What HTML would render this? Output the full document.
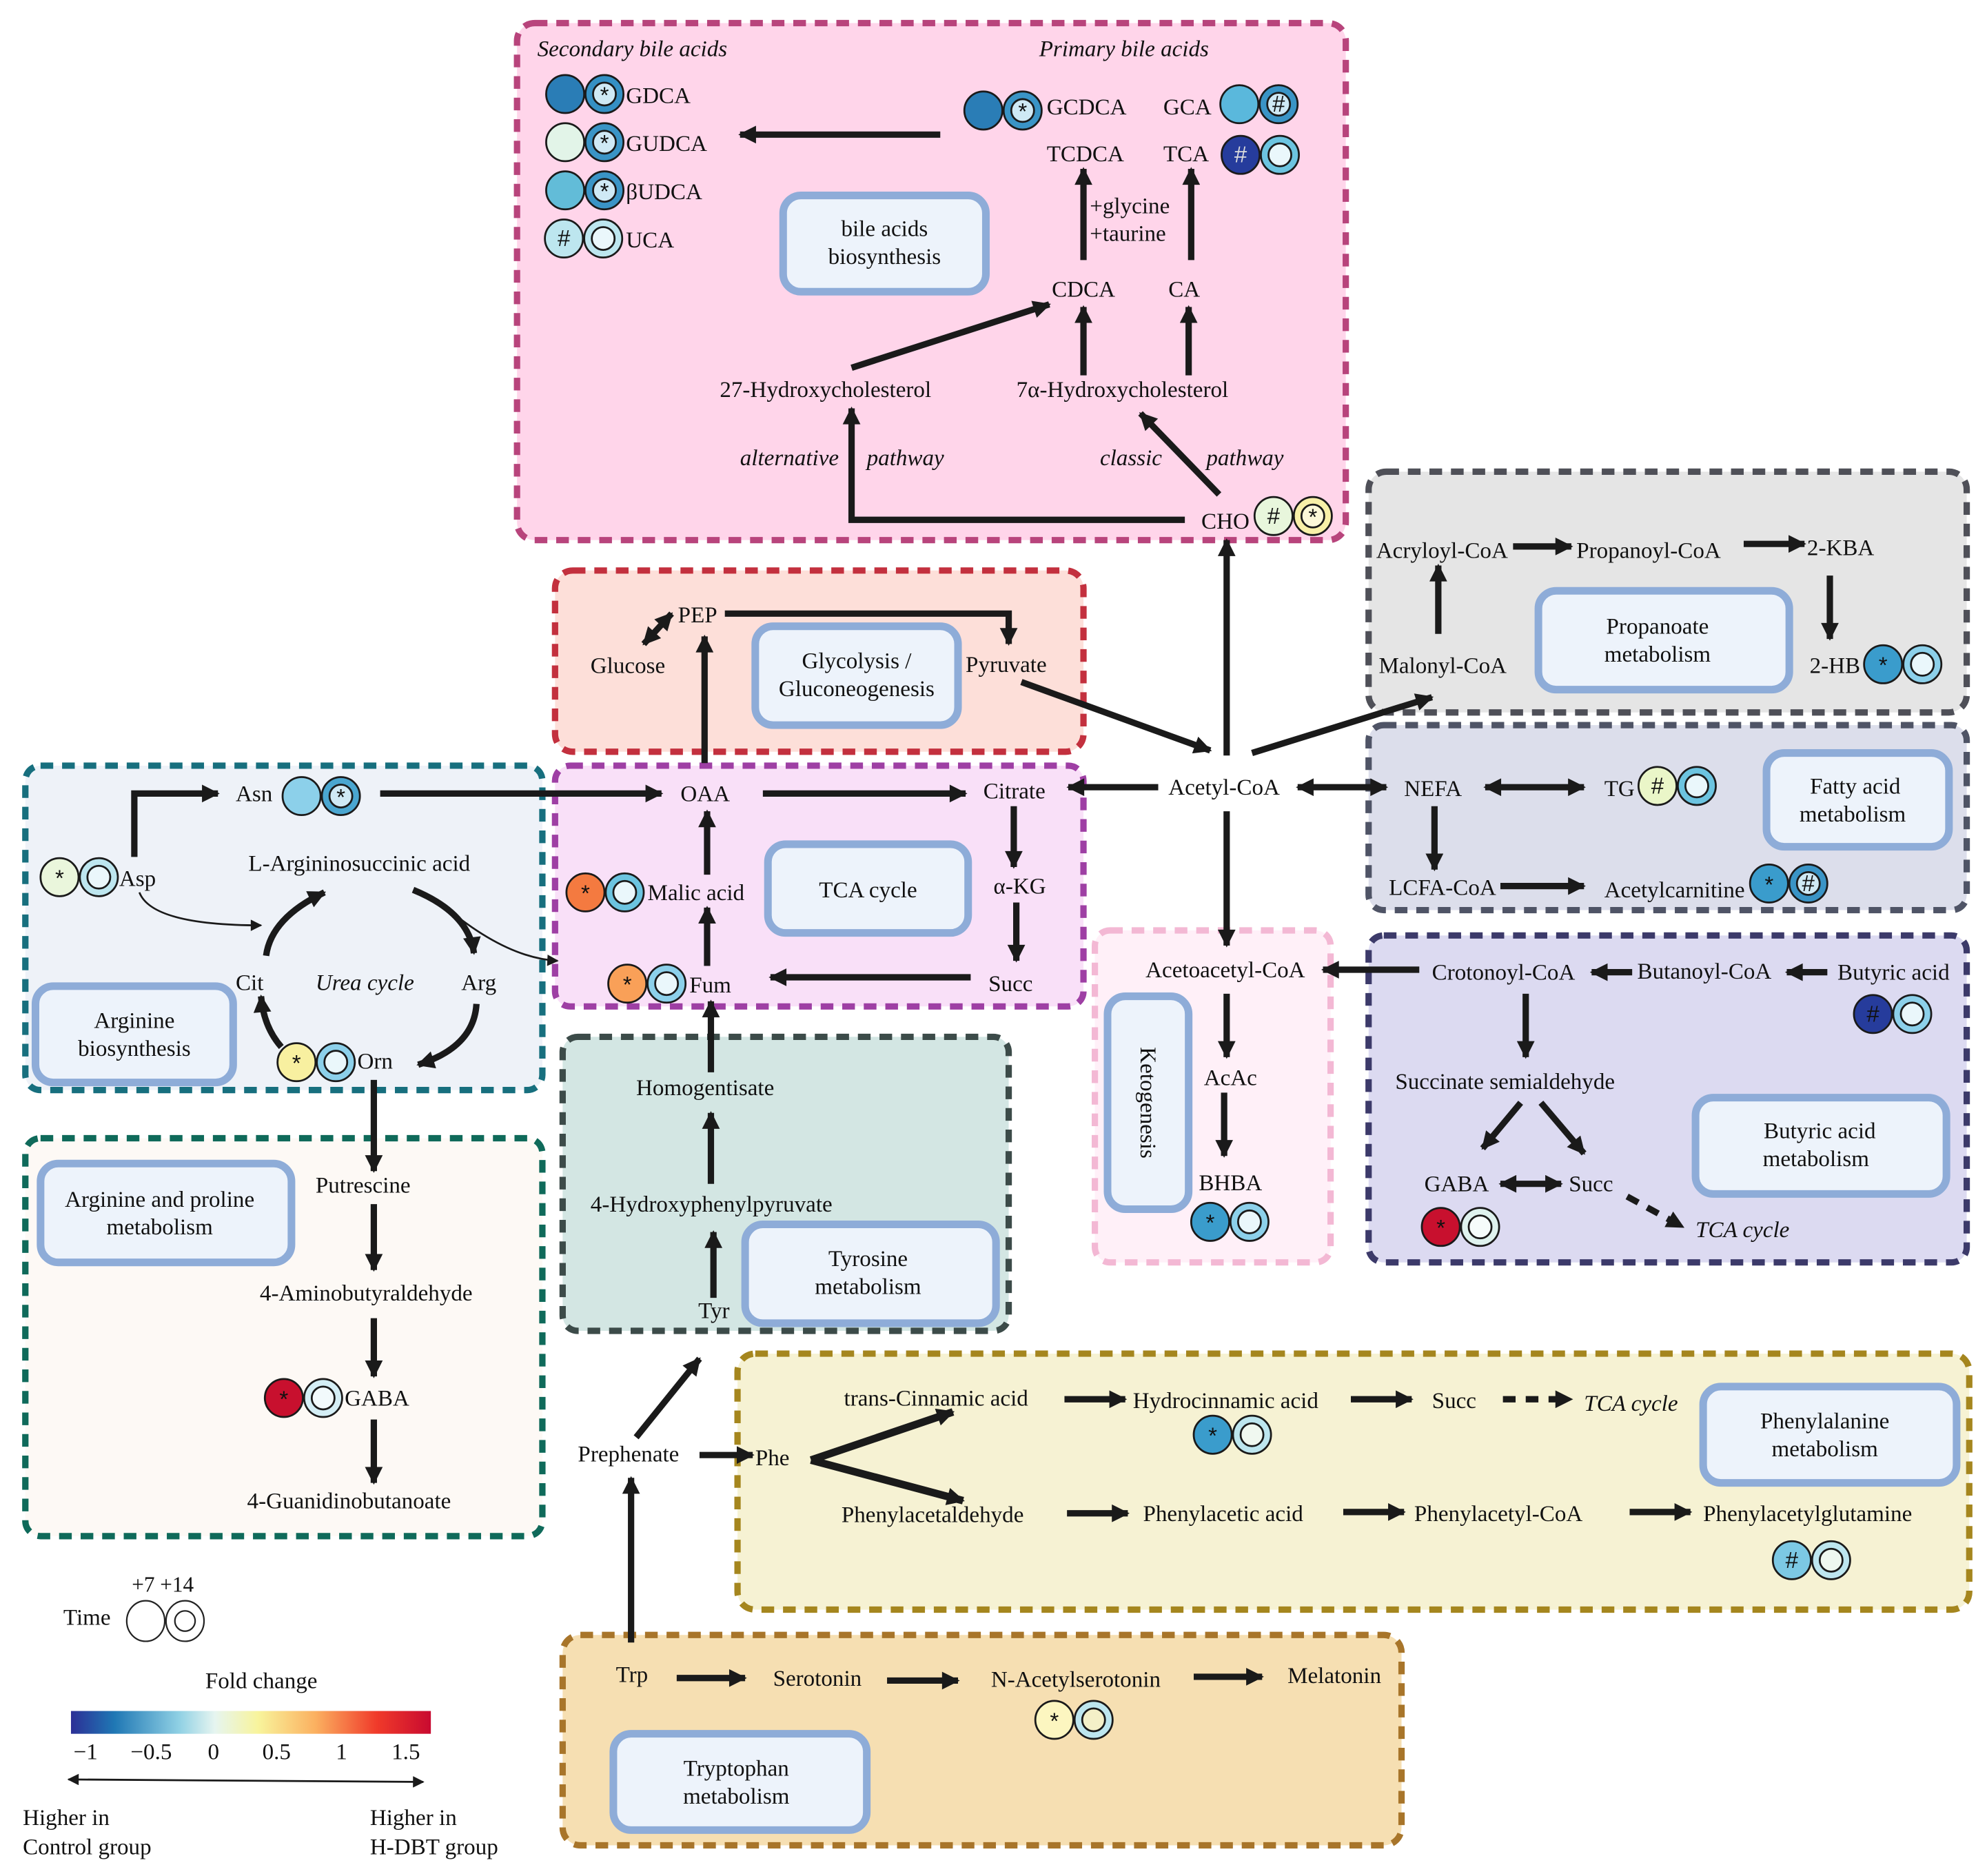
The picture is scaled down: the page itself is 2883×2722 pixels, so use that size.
<!DOCTYPE html>
<html><head><meta charset="utf-8"><style>
html,body{margin:0;padding:0;background:#fff}
svg{display:block}
text{font-family:"Liberation Serif",serif;font-size:18px;fill:#111}
.i{font-style:italic}
.s{font-size:15px}
.a{stroke:#1a1a1a;stroke-width:5;fill:none;marker-end:url(#ah)}
.d{stroke:#1a1a1a;stroke-width:5;fill:none;marker-end:url(#ah);marker-start:url(#ah)}
.t{stroke:#1a1a1a;stroke-width:1.5;fill:none;marker-end:url(#ahs)}
.lb{fill:#edf3fb;stroke:#8eacd8;stroke-width:6}
.bo{stroke-width:5;stroke-dasharray:10 7}
.c{stroke:#1a1a1a;stroke-width:1.5}
.sy{font-family:"Liberation Sans",sans-serif;font-size:18px;text-anchor:middle}
</style></head><body>
<svg width="2883" height="2722" viewBox="0 0 1568 1480" xmlns="http://www.w3.org/2000/svg">
<defs>
<marker id="ah" viewBox="0 0 10 10" refX="9" refY="5" markerWidth="16" markerHeight="14" markerUnits="userSpaceOnUse" orient="auto-start-reverse"><path d="M0,0 L10,5 L0,10 z" fill="#1a1a1a"/></marker>
<marker id="ahs" viewBox="0 0 10 10" refX="9" refY="5" markerWidth="10" markerHeight="9" markerUnits="userSpaceOnUse" orient="auto-start-reverse"><path d="M0,0 L10,5 L0,10 z" fill="#1a1a1a"/></marker>
<linearGradient id="fc" x1="0" x2="1" y1="0" y2="0">
<stop offset="0" stop-color="#2c2f96"/><stop offset="0.12" stop-color="#1f77b4"/><stop offset="0.3" stop-color="#8fd0e4"/><stop offset="0.4" stop-color="#e6f5f0"/><stop offset="0.52" stop-color="#f8f49c"/><stop offset="0.68" stop-color="#fbb060"/><stop offset="0.85" stop-color="#f03a2a"/><stop offset="1" stop-color="#c80a30"/>
</linearGradient>
</defs>

<rect class="bo" x="408" y="18" width="654" height="408" rx="14" fill="#ffd5ea" stroke="#b8447c"/>
<rect class="bo" x="438" y="450" width="417" height="143" rx="14" fill="#fddfd9" stroke="#c3303e"/>
<rect class="bo" x="438" y="604" width="417" height="190" rx="12" fill="#f9e0f8" stroke="#9e3fa4"/>
<rect class="bo" x="20" y="604" width="408" height="256" rx="12" fill="#eef2f8" stroke="#176f7e"/>
<rect class="bo" x="20" y="898" width="408" height="314" rx="12" fill="#fdf9f5" stroke="#0f6a5a"/>
<rect class="bo" x="444" y="818" width="352" height="232" rx="12" fill="#d3e6e3" stroke="#3c4b49"/>
<rect class="bo" x="864" y="734" width="186" height="262" rx="12" fill="#fff0f8" stroke="#f3b8d4"/>
<rect class="bo" x="1080" y="372" width="472" height="190" rx="14" fill="#e5e5e5" stroke="#4f5058"/>
<rect class="bo" x="1080" y="572" width="472" height="146" rx="12" fill="#dcdeeb" stroke="#4f5466"/>
<rect class="bo" x="1080" y="738" width="472" height="258" rx="12" fill="#dcdaf1" stroke="#3c3a6a"/>
<rect class="bo" x="582" y="1068" width="972" height="202" rx="14" fill="#f6f2d3" stroke="#a5861e"/>
<rect class="bo" x="444" y="1290" width="662" height="166" rx="14" fill="#f6dfb2" stroke="#a8752a"/>

<rect class="lb" x="618" y="154" width="160" height="76" rx="14"/>
<text x="698" y="186" text-anchor="middle">bile acids</text><text x="698" y="208" text-anchor="middle">biosynthesis</text>
<rect class="lb" x="596" y="494" width="160" height="78" rx="14"/>
<text x="676" y="527" text-anchor="middle">Glycolysis /</text><text x="676" y="549" text-anchor="middle">Gluconeogenesis</text>
<rect class="lb" x="606" y="666" width="158" height="70" rx="14"/>
<text x="685" y="708" text-anchor="middle">TCA cycle</text>
<rect class="lb" x="28" y="778" width="156" height="76" rx="14"/>
<text x="106" y="811" text-anchor="middle">Arginine</text><text x="106" y="833" text-anchor="middle">biosynthesis</text>
<rect class="lb" x="32" y="918" width="198" height="78" rx="14"/>
<text x="126" y="952" text-anchor="middle">Arginine and proline</text><text x="126" y="974" text-anchor="middle">metabolism</text>
<rect class="lb" x="588" y="966" width="198" height="78" rx="14"/>
<text x="685" y="999" text-anchor="middle">Tyrosine</text><text x="685" y="1021" text-anchor="middle">metabolism</text>
<rect class="lb" x="874" y="786" width="64" height="168" rx="14"/>
<text x="906" y="870" text-anchor="middle" transform="rotate(90 906 870)" dy="6">Ketogenesis</text>
<rect class="lb" x="1214" y="466" width="198" height="78" rx="14"/>
<text x="1308" y="500" text-anchor="middle">Propanoate</text><text x="1308" y="522" text-anchor="middle">metabolism</text>
<rect class="lb" x="1394" y="594" width="144" height="74" rx="14"/>
<text x="1464" y="626" text-anchor="middle">Fatty acid</text><text x="1462" y="648" text-anchor="middle">metabolism</text>
<rect class="lb" x="1338" y="866" width="198" height="76" rx="14"/>
<text x="1436" y="898" text-anchor="middle">Butyric acid</text><text x="1433" y="920" text-anchor="middle">metabolism</text>
<rect class="lb" x="1344" y="1094" width="200" height="76" rx="14"/>
<text x="1440" y="1127" text-anchor="middle">Phenylalanine</text><text x="1440" y="1149" text-anchor="middle">metabolism</text>
<rect class="lb" x="484" y="1368" width="200" height="76" rx="14"/>
<text x="581" y="1401" text-anchor="middle">Tryptophan</text><text x="581" y="1423" text-anchor="middle">metabolism</text>

<text x="424" y="44" class="i">Secondary bile acids</text>
<text x="820" y="44" class="i">Primary bile acids</text>
<text x="494" y="81">GDCA</text>
<text x="494" y="119">GUDCA</text>
<text x="494" y="157">βUDCA</text>
<text x="494" y="195">UCA</text>
<text x="826" y="90">GCDCA</text>
<text x="918" y="90">GCA</text>
<text x="826" y="127">TCDCA</text>
<text x="918" y="127">TCA</text>
<text x="860" y="168">+glycine</text>
<text x="860" y="190">+taurine</text>
<text x="830" y="234">CDCA</text>
<text x="922" y="234">CA</text>
<text x="568" y="313">27-Hydroxycholesterol</text>
<text x="802" y="313">7α-Hydroxycholesterol</text>
<text x="584" y="367" class="i">alternative</text>
<text x="684" y="367" class="i">pathway</text>
<text x="868" y="367" class="i">classic</text>
<text x="952" y="367" class="i">pathway</text>
<text x="948" y="417">CHO</text>

<path class="a" d="M742,106 H584"/>
<path class="a" d="M855,205 V133"/>
<path class="a" d="M940,205 V133"/>
<path class="a" d="M672,290 L828,240"/>
<path class="a" d="M855,296 V242"/>
<path class="a" d="M938,296 V242"/>
<path class="a" d="M935,410 H672 V322"/>
<path class="a" d="M962,390 L900,326"/>
<path class="a" d="M968,596 V426"/>

<text x="535" y="491">PEP</text>
<text x="466" y="531">Glucose</text>
<text x="762" y="530">Pyruvate</text>
<path class="d" d="M508,508 L530,484"/>
<path class="a" d="M572,484 H796 V508"/>
<path class="a" d="M556,602 V502"/>
<path class="a" d="M806,538 L955,592"/>
<path class="a" d="M988,594 L1130,550"/>

<text x="537" y="632">OAA</text>
<text x="776" y="630">Citrate</text>
<text x="784" y="705">α-KG</text>
<text x="780" y="782">Succ</text>
<text x="511" y="710">Malic acid</text>
<text x="544" y="783">Fum</text>
<path class="a" d="M300,626 H522"/>
<path class="a" d="M602,626 H762"/>
<path class="a" d="M800,636 V684"/>
<path class="a" d="M802,712 V758"/>
<path class="a" d="M766,771 H608"/>
<path class="a" d="M558,762 V716"/>
<path class="a" d="M558,690 V640"/>
<path class="a" d="M561,846 V790"/>

<text x="922" y="627">Acetyl-CoA</text>
<path class="a" d="M914,621 H843"/>
<path class="d" d="M1094,621 H1024"/>
<path class="a" d="M968,640 V746"/>

<text x="186" y="632">Asn</text>
<text x="94" y="699">Asp</text>
<text x="196" y="687">L-Argininosuccinic acid</text>
<text x="186" y="781">Cit</text>
<text x="249" y="781" class="i">Urea cycle</text>
<text x="364" y="781">Arg</text>
<text x="282" y="843">Orn</text>
<path class="a" d="M106,676 V626 H172"/>
<path class="t" d="M110,704 Q120,730 206,730"/>
<path class="t" d="M352,716 Q400,756 440,758"/>
<path class="a" d="M210,754 Q214,724 256,704"/>
<path class="a" d="M326,702 Q370,720 374,752"/>
<path class="a" d="M376,792 Q374,826 330,840"/>
<path class="a" d="M222,826 Q208,810 206,786"/>

<text x="249" y="941">Putrescine</text>
<text x="205" y="1026">4-Aminobutyraldehyde</text>
<text x="272" y="1109">GABA</text>
<text x="195" y="1190">4-Guanidinobutanoate</text>
<path class="a" d="M295,852 V924"/>
<path class="a" d="M295,950 V1002"/>
<path class="a" d="M295,1040 V1086"/>
<path class="a" d="M295,1120 V1170"/>

<text x="502" y="864">Homogentisate</text>
<text x="466" y="956">4-Hydroxyphenylpyruvate</text>
<text x="551" y="1040">Tyr</text>
<path class="a" d="M563,1024 V972"/>
<path class="a" d="M561,934 V878"/>
<text x="456" y="1153">Prephenate</text>
<path class="a" d="M502,1134 L552,1072"/>
<path class="a" d="M498,1296 V1166"/>
<path class="a" d="M552,1148 H594"/>

<text x="904" y="771">Acetoacetyl-CoA</text>
<text x="950" y="856">AcAc</text>
<text x="946" y="939">BHBA</text>
<path class="a" d="M968,784 V834"/>
<path class="a" d="M966,862 V912"/>

<text x="1086" y="440">Acryloyl-CoA</text>
<text x="1244" y="440">Propanoyl-CoA</text>
<text x="1426" y="438">2-KBA</text>
<text x="1088" y="531">Malonyl-CoA</text>
<text x="1428" y="531">2-HB</text>
<path class="a" d="M1135,500 V446"/>
<path class="a" d="M1194,431 H1240"/>
<path class="a" d="M1376,429 H1424"/>
<path class="a" d="M1444,454 V504"/>

<text x="1108" y="628">NEFA</text>
<text x="1266" y="628">TG</text>
<text x="1096" y="706">LCFA-CoA</text>
<text x="1266" y="708">Acetylcarnitine</text>
<path class="d" d="M1172,621 H1250"/>
<path class="a" d="M1132,636 V686"/>
<path class="a" d="M1184,699 H1250"/>

<text x="1130" y="773">Crotonoyl-CoA</text>
<text x="1292" y="772">Butanoyl-CoA</text>
<text x="1450" y="773">Butyric acid</text>
<text x="1101" y="859">Succinate semialdehyde</text>
<text x="1124" y="940">GABA</text>
<text x="1238" y="940">Succ</text>
<text x="1338" y="976" class="i">TCA cycle</text>
<path class="a" d="M1442,767 H1410"/>
<path class="a" d="M1288,767 H1256"/>
<path class="a" d="M1120,765 H1044"/>
<path class="a" d="M1204,784 V834"/>
<path class="a" d="M1200,870 L1170,906"/>
<path class="a" d="M1216,870 L1250,910"/>
<path class="d" d="M1184,934 H1232"/>
<path class="a" d="M1284,944 L1328,968" stroke-dasharray="10 8"/>

<text x="596" y="1156">Phe</text>
<text x="666" y="1109">trans-Cinnamic acid</text>
<text x="894" y="1111">Hydrocinnamic acid</text>
<text x="1130" y="1111">Succ</text>
<text x="1250" y="1113" class="i">TCA cycle</text>
<text x="664" y="1201">Phenylacetaldehyde</text>
<text x="902" y="1200">Phenylacetic acid</text>
<text x="1116" y="1200">Phenylacetyl-CoA</text>
<text x="1344" y="1200">Phenylacetylglutamine</text>
<path d="M640,1152 L760,1184" stroke="#1a1a1a" stroke-width="6" fill="none" marker-end="url(#ah)"/>
<path d="M640,1152 L752,1114" stroke="#1a1a1a" stroke-width="6" fill="none" marker-end="url(#ah)"/>
<path class="a" d="M840,1104 H888"/>
<path class="a" d="M1066,1104 H1114"/>
<path class="a" d="M1186,1104 H1240" stroke-dasharray="10 8"/>
<path class="a" d="M842,1194 H890"/>
<path class="a" d="M1060,1193 H1108"/>
<path class="a" d="M1286,1193 H1334"/>

<text x="486" y="1327">Trp</text>
<text x="610" y="1330">Serotonin</text>
<text x="782" y="1331">N-Acetylserotonin</text>
<text x="1016" y="1328">Melatonin</text>
<path class="a" d="M534,1324 H588"/>
<path class="a" d="M700,1326 H756"/>
<path class="a" d="M942,1323 H996"/>

<g>
<circle class="c" cx="446" cy="74" r="15" fill="#2a7db6"/><circle class="c" cx="477" cy="74" r="15" fill="#3590c4"/><circle class="c" cx="477" cy="74" r="9" fill="#cfe9f5"/><text class="sy" x="477" y="81">*</text>
<circle class="c" cx="446" cy="112" r="15" fill="#e2f4e8"/><circle class="c" cx="477" cy="112" r="15" fill="#3a94c6"/><circle class="c" cx="477" cy="112" r="9" fill="#cfe9f5"/><text class="sy" x="477" y="119">*</text>
<circle class="c" cx="446" cy="150" r="15" fill="#62bcd8"/><circle class="c" cx="477" cy="150" r="15" fill="#3a94c6"/><circle class="c" cx="477" cy="150" r="9" fill="#cfe9f5"/><text class="sy" x="477" y="157">*</text>
<circle class="c" cx="445" cy="188" r="15" fill="#bde6ef"/><text class="sy" x="445" y="194">#</text><circle class="c" cx="476" cy="188" r="15" fill="#bde6ef"/><circle class="c" cx="476" cy="188" r="9" fill="#eaf7fb"/>
<circle class="c" cx="776" cy="87" r="15" fill="#2a7db6"/><circle class="c" cx="807" cy="87" r="15" fill="#3a94c6"/><circle class="c" cx="807" cy="87" r="9" fill="#cfe9f5"/><text class="sy" x="807" y="94">*</text>
<circle class="c" cx="978" cy="82" r="15" fill="#5ab8dc"/><circle class="c" cx="1009" cy="82" r="15" fill="#3a94c6"/><circle class="c" cx="1009" cy="82" r="9" fill="#cfe9f5"/><text class="sy" x="1009" y="88">#</text>
<circle class="c" cx="979" cy="122" r="15" fill="#263c9c"/><text class="sy" x="979" y="128" style="fill:#ddd">#</text><circle class="c" cx="1010" cy="122" r="15" fill="#6cc4e0"/><circle class="c" cx="1010" cy="122" r="9" fill="#eaf7fb"/>
<circle class="c" cx="1005" cy="407" r="15" fill="#e8f6dc"/><text class="sy" x="1005" y="413">#</text><circle class="c" cx="1036" cy="407" r="15" fill="#f8f0a8"/><circle class="c" cx="1036" cy="407" r="9" fill="#fcf8d8"/><text class="sy" x="1036" y="414">*</text>
<circle class="c" cx="238" cy="628" r="15" fill="#8cd0ea"/><circle class="c" cx="269" cy="628" r="15" fill="#4aa6d0"/><circle class="c" cx="269" cy="628" r="9" fill="#cfe9f5"/><text class="sy" x="269" y="635">*</text>
<circle class="c" cx="47" cy="692" r="15" fill="#eaf6dc"/><text class="sy" x="47" y="699">*</text><circle class="c" cx="78" cy="692" r="15" fill="#bde6ef"/><circle class="c" cx="78" cy="692" r="9" fill="#eaf7fb"/>
<circle class="c" cx="462" cy="704" r="15" fill="#f47a40"/><text class="sy" x="462" y="711">*</text><circle class="c" cx="493" cy="704" r="15" fill="#6cc4e0"/><circle class="c" cx="493" cy="704" r="9" fill="#eaf7fb"/>
<circle class="c" cx="495" cy="776" r="15" fill="#f9a058"/><text class="sy" x="495" y="783">*</text><circle class="c" cx="526" cy="776" r="15" fill="#8cd0ea"/><circle class="c" cx="526" cy="776" r="9" fill="#eaf7fb"/>
<circle class="c" cx="234" cy="838" r="15" fill="#f8f0a0"/><text class="sy" x="234" y="845">*</text><circle class="c" cx="265" cy="838" r="15" fill="#8cd0ea"/><circle class="c" cx="265" cy="838" r="9" fill="#eaf7fb"/>
<circle class="c" cx="224" cy="1103" r="15" fill="#c8102e"/><text class="sy" x="224" y="1110">*</text><circle class="c" cx="255" cy="1103" r="15" fill="#d4eef5"/><circle class="c" cx="255" cy="1103" r="9" fill="#f2fafc"/>
<circle class="c" cx="1308" cy="620" r="15" fill="#eaf6c8"/><text class="sy" x="1308" y="626">#</text><circle class="c" cx="1339" cy="620" r="15" fill="#6cc4e0"/><circle class="c" cx="1339" cy="620" r="9" fill="#eaf7fb"/>
<circle class="c" cx="1396" cy="697" r="15" fill="#3a9ccc"/><text class="sy" x="1396" y="704">*</text><circle class="c" cx="1427" cy="697" r="15" fill="#3a94c6"/><circle class="c" cx="1427" cy="697" r="9" fill="#cfe9f5"/><text class="sy" x="1427" y="703">#</text>
<circle class="c" cx="1486" cy="524" r="15" fill="#3a9ccc"/><text class="sy" x="1486" y="531">*</text><circle class="c" cx="1517" cy="524" r="15" fill="#8cd0ea"/><circle class="c" cx="1517" cy="524" r="9" fill="#eaf7fb"/>
<circle class="c" cx="1478" cy="800" r="15" fill="#263c9c"/><text class="sy" x="1478" y="806">#</text><circle class="c" cx="1509" cy="800" r="15" fill="#8cd0ea"/><circle class="c" cx="1509" cy="800" r="9" fill="#eaf7fb"/>
<circle class="c" cx="1137" cy="968" r="15" fill="#c8102e"/><text class="sy" x="1137" y="975">*</text><circle class="c" cx="1168" cy="968" r="15" fill="#dff2ee"/><circle class="c" cx="1168" cy="968" r="9" fill="#f6fcfb"/>
<circle class="c" cx="955" cy="964" r="15" fill="#3a9ccc"/><text class="sy" x="955" y="971">*</text><circle class="c" cx="986" cy="964" r="15" fill="#8cd0ea"/><circle class="c" cx="986" cy="964" r="9" fill="#eaf7fb"/>
<circle class="c" cx="957" cy="1132" r="15" fill="#3a9ccc"/><text class="sy" x="957" y="1139">*</text><circle class="c" cx="988" cy="1132" r="15" fill="#bde6ef"/><circle class="c" cx="988" cy="1132" r="9" fill="#f0f8f0"/>
<circle class="c" cx="1414" cy="1231" r="15" fill="#7cc8e4"/><text class="sy" x="1414" y="1237">#</text><circle class="c" cx="1445" cy="1231" r="15" fill="#bde6ef"/><circle class="c" cx="1445" cy="1231" r="9" fill="#eef8f0"/>
<circle class="c" cx="832" cy="1357" r="15" fill="#fcf6c0"/><text class="sy" x="832" y="1364">*</text><circle class="c" cx="863" cy="1357" r="15" fill="#bde6ef"/><circle class="c" cx="863" cy="1357" r="9" fill="#f4f0c8"/>
</g>

<text x="104" y="1256" style="font-size:17px">+7 +14</text>
<text x="50" y="1282">Time</text>
<ellipse cx="115" cy="1279" rx="15" ry="16" fill="#fff" stroke="#222" stroke-width="1.2"/>
<ellipse cx="146" cy="1279" rx="15" ry="16" fill="#fff" stroke="#222" stroke-width="1.2"/>
<circle cx="146" cy="1279" r="8" fill="#fff" stroke="#222" stroke-width="1.2"/>
<text x="162" y="1332">Fold change</text>
<rect x="56" y="1350" width="284" height="18" fill="url(#fc)"/>
<text x="58" y="1388">−1</text>
<text x="103" y="1388">−0.5</text>
<text x="164" y="1388">0</text>
<text x="207" y="1388">0.5</text>
<text x="265" y="1388">1</text>
<text x="309" y="1388">1.5</text>
<path d="M54,1404 L334,1406" stroke="#1a1a1a" stroke-width="1.5" fill="none" marker-end="url(#ahs)" marker-start="url(#ahs)"/>
<text x="18" y="1440">Higher in</text>
<text x="18" y="1463">Control group</text>
<text x="292" y="1440">Higher in</text>
<text x="292" y="1463">H-DBT group</text>
</svg>
</body></html>
